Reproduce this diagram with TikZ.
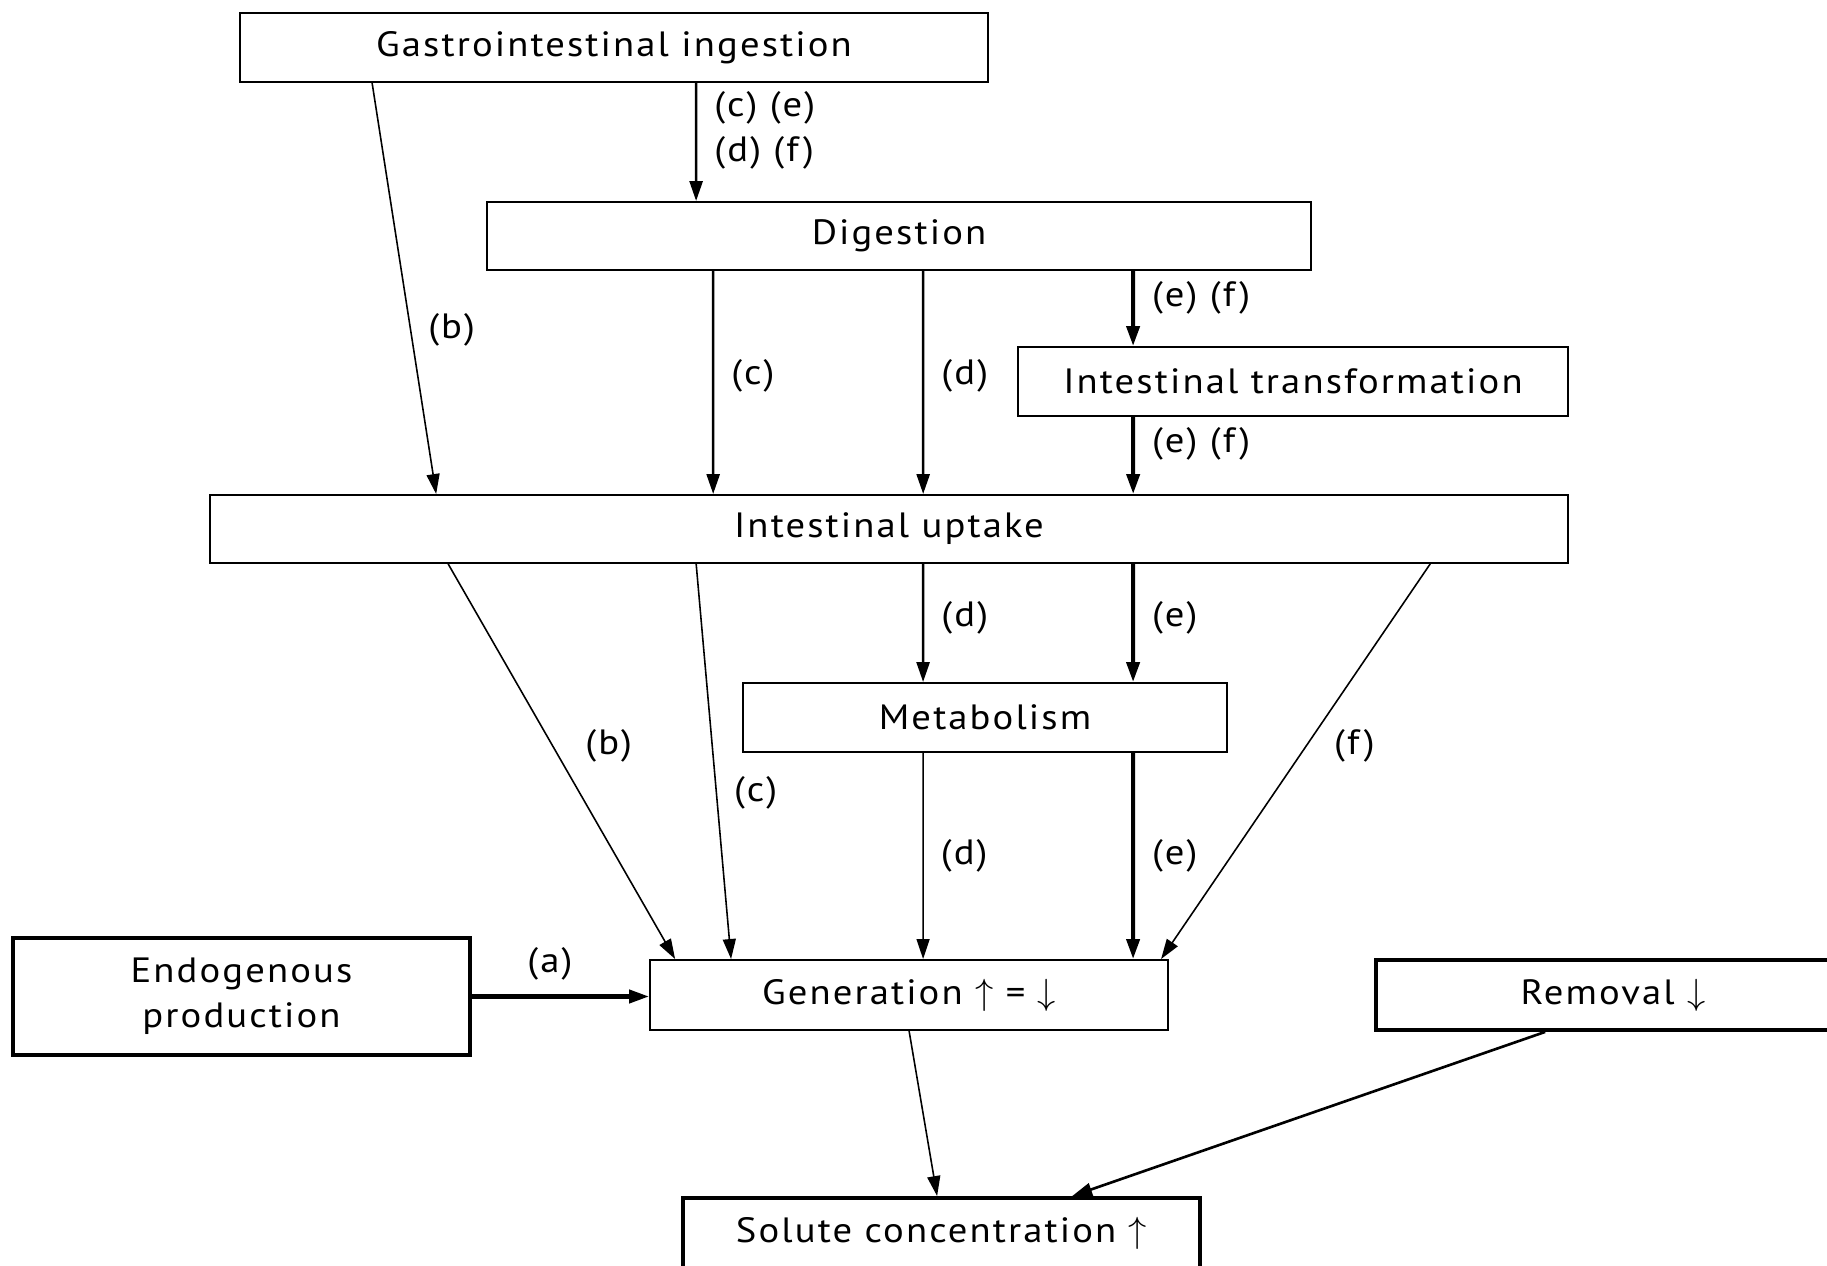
\documentclass[tikz,border=0pt]{standalone}
\usepackage{fontspec}
\setmainfont[LetterSpace=6,FakeStretch=1.1]{PT Sans}
\usetikzlibrary{arrows.meta,calc}
\begin{document}
\begin{tikzpicture}[x=0.02cm, y=-0.02cm,
      every node/.style={font=\fontsize{20}{25.5}\selectfont, align=center},
      bloque/.style={draw, line width=1.1pt, inner sep=0pt},
      bloquegrueso/.style={bloque, line width=2.2pt},
      etiq/.style={inner sep=0pt, anchor=west, xshift=0.34cm},
      flecha/.style={-{Triangle[length=0.4cm,width=0.26cm]}, line width=0.9pt},
      flechamedia/.style={flecha, line width=1.5pt},
      flechagruesa/.style={flecha, line width=2.3pt}
    ]
    \useasboundingbox (0,0) rectangle (1827,1266);
    % Cajas del esquema
    \node[bloque, minimum width=14.96cm, minimum height=1.38cm] (gi)  at (614,47.5)  {Gastrointestinal ingestion};
    \node[bloque, minimum width=16.48cm, minimum height=1.36cm] (dig) at (899,236)   {Digestion};
    \node[bloque, minimum width=11.00cm, minimum height=1.38cm] (itr) at (1293,381.5) {Intestinal transformation};
    \node[bloque, minimum width=27.16cm, minimum height=1.36cm] (up)  at (889,529)   {Intestinal uptake};
    \node[bloque, minimum width=9.68cm,  minimum height=1.38cm] (met) at (985,717.5) {Metabolism};
    \node[bloquegrueso, minimum width=9.14cm, minimum height=2.34cm] (endo) at (241.5,996.5) {Endogenous\\ production};
    \node[bloque, minimum width=10.36cm, minimum height=1.40cm] (gen) at (909,995)   {Generation $\uparrow$ = $\downarrow$};
    \node[bloquegrueso, minimum width=9.48cm, minimum height=1.40cm] (rem) at (1613,995) {Removal $\downarrow$};
    \node[bloquegrueso, minimum width=10.34cm, minimum height=1.40cm] (sol) at (941.5,1233) {Solute concentration $\uparrow$};
    % Flechas desde la ingestion y la digestion
    \draw[flechamedia] ($(gi.south west)+(457,0)$) -- node[etiq, pos=0.4, align=left]{(c) (e)\\(d) (f)} ($(dig.north west)+(210,0)$);
    \draw[flecha] ($(gi.south west)+(133,0)$) -- node[etiq, pos=0.6]{(b)} ($(up.north west)+(227,0)$);
    \draw[flechamedia] ($(dig.south west)+(227,0)$) -- node[etiq, pos=0.47]{(c)} ($(up.north west)+(504,0)$);
    \draw[flechamedia] ($(dig.south west)+(437,0)$) -- node[etiq, pos=0.47]{(d)} ($(up.north west)+(714,0)$);
    \draw[flechagruesa] ($(dig.south west)+(647,0)$) -- node[etiq, pos=0.36]{(e) (f)} ($(itr.north west)+(116,0)$);
    \draw[flechagruesa] ($(itr.south west)+(116,0)$) -- node[etiq, pos=0.35]{(e) (f)} ($(up.north west)+(924,0)$);
    % Flechas desde la captacion intestinal y el metabolismo
    \draw[flecha] ($(up.south west)+(239,0)$) -- node[etiq, pos=0.46, xshift=0.3cm]{(b)} ($(gen.north west)+(26,0)$);
    \draw[flecha] ($(up.south west)+(487,0)$) -- node[etiq, pos=0.58]{(c)} ($(gen.north west)+(82,0)$);
    \draw[flechamedia] ($(up.south west)+(714,0)$) -- node[etiq, pos=0.46]{(d)} ($(met.north west)+(181,0)$);
    \draw[flechagruesa] ($(up.south west)+(924,0)$) -- node[etiq, pos=0.46]{(e)} ($(met.north west)+(391,0)$);
    \draw[flecha] ($(met.south west)+(181,0)$) -- node[etiq, pos=0.5]{(d)} ($(gen.north west)+(274,0)$);
    \draw[flechagruesa] ($(met.south west)+(391,0)$) -- node[etiq, pos=0.5]{(e)} ($(gen.north west)+(484,0)$);
    \draw[flecha] ($(up.south west)+(1221,0)$) -- node[etiq, pos=0.46, xshift=0.2cm]{(f)} ($(gen.north west)+(512,0)$);
    % Produccion endogena, eliminacion y concentracion
    \draw[flechagruesa] (endo.east) -- node[pos=0.44, anchor=south, inner sep=0pt, yshift=0.28cm]{(a)} (endo.east -| gen.west);
    \draw[flecha] ($(gen.south west)+(260,0)$) -- ($(sol.north west)+(256,0)$);
    \draw[flechamedia] ($(rem.south west)+(171,0)$) -- ($(sol.north west)+(391,0)$);
  \end{tikzpicture}
\end{document}
